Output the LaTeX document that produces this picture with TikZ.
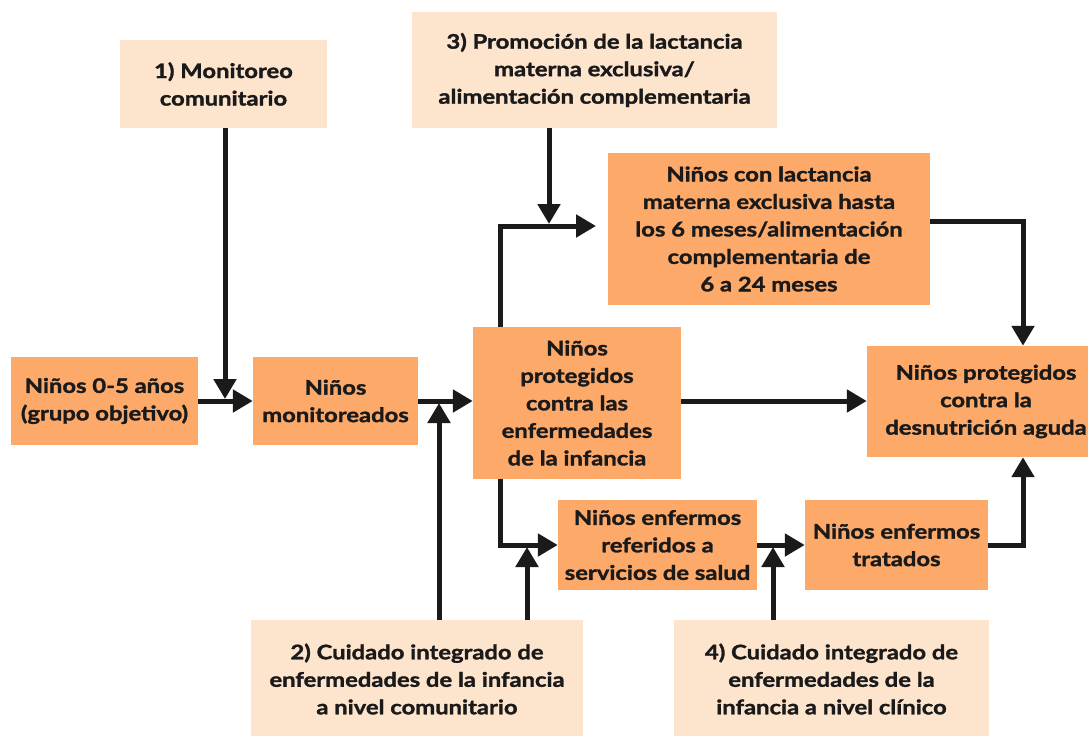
\documentclass[tikz,border=0pt]{standalone}
\usepackage{fontspec}
\setmainfont{Lato}[BoldFeatures={FakeBold=1.6,FakeStretch=1.19}]
\usetikzlibrary{arrows.meta,calc}
\definecolor{darkbox}{RGB}{252,169,106}
\definecolor{lightbox}{RGB}{253,228,205}
\definecolor{ink}{RGB}{26,26,26}
\tikzset{
  box/.style={inner sep=0pt, align=center, text=ink,
    font=\bfseries\fontsize{20}{27.5}\selectfont},
  darkb/.style={box, fill=darkbox},
  lightb/.style={box, fill=lightbox},
  arr/.style={draw=ink, line width=5pt, -{Triangle[length=20pt,width=22pt]}},
}
\begin{document}
\begin{tikzpicture}[x=1pt,y=-1pt]
\useasboundingbox (0,0) rectangle (1088,736);
\clip (0,0) rectangle (1088,736);
% boxes
\node[lightb, minimum width=207pt, minimum height=88pt] (mon1) at (223.5,84) {1) Monitoreo\\comunitario};
\node[lightb, minimum width=365pt, minimum height=116pt] (prom3) at (594.5,70) {3) Promoción de la lactancia\\materna exclusiva/\\alimentación complementaria};
\node[darkb, minimum width=322pt, minimum height=152pt] (lact) at (769,229) {Niños con lactancia\\materna exclusiva hasta\\los 6 meses/alimentación\\complementaria de\\6 a 24 meses};
\node[darkb, minimum width=187pt, minimum height=88pt] (n05) at (104.5,401) {Niños 0-5 años\\(grupo objetivo)};
\node[darkb, minimum width=165pt, minimum height=88pt] (mon) at (335.5,401) {Niños\\monitoreados};
\node[darkb, minimum width=208pt, minimum height=152pt] (prot) at (577,403) {Niños\\protegidos\\contra las\\enfermedades\\de la infancia};
\node[darkb, minimum width=238pt, minimum height=111pt] (desn) at (986,401.5) {Niños protegidos\\contra la\\desnutrición aguda};
\node[darkb, minimum width=199pt, minimum height=90pt] (ref) at (657.5,545) {Niños enfermos\\referidos a\\servicios de salud};
\node[darkb, minimum width=183pt, minimum height=90pt] (trat) at (896.5,545) {Niños enfermos\\tratados};
\node[lightb, minimum width=332pt, minimum height=118pt] (cui2) at (417,679) {2) Cuidado integrado de\\enfermedades de la infancia\\a nivel comunitario};
\node[lightb, minimum width=315pt, minimum height=118pt] (cui4) at (831.5,679) {4) Cuidado integrado de\\enfermedades de la\\infancia a nivel clínico};
% junction coordinates
\coordinate (j1) at (439,401);
\coordinate (j2) at (527,545);
\coordinate (j3) at (549,226);
\coordinate (j4) at (773,545);
\coordinate (px) at (500,403);
\coordinate (lin) at (596,226);
\coordinate (kx) at (1023,300);
% connectors
\draw[arr] (mon1.south -| 225,0) -- (225,399);
\draw[arr] (n05.east) -- (mon.west);
\draw[arr] (mon.east) -- (mon.east -| prot.west);
\draw[arr] (cui2.north -| j1) -- ($(j1)+(0,2)$);
\draw[arr] (cui2.north -| j2) -- ($(j2)+(0,2)$);
\draw[arr] (prot.south -| px) |- (ref.west);
\draw[arr] (prot.north -| px) |- (lin);
\draw[arr] (prom3.south -| j3) -- ($(j3)+(0,-2)$);
\draw[arr] (prot.east |- mon.east) -- (mon.east -| desn.west);
\draw[arr] (lact.east |- 0,221) -| (desn.north -| kx);
\draw[arr] (ref.east) -- (trat.west);
\draw[arr] (cui4.north -| j4) -- ($(j4)+(0,2)$);
\draw[arr] (trat.east) -| (desn.south -| kx);
\end{tikzpicture}
\end{document}
